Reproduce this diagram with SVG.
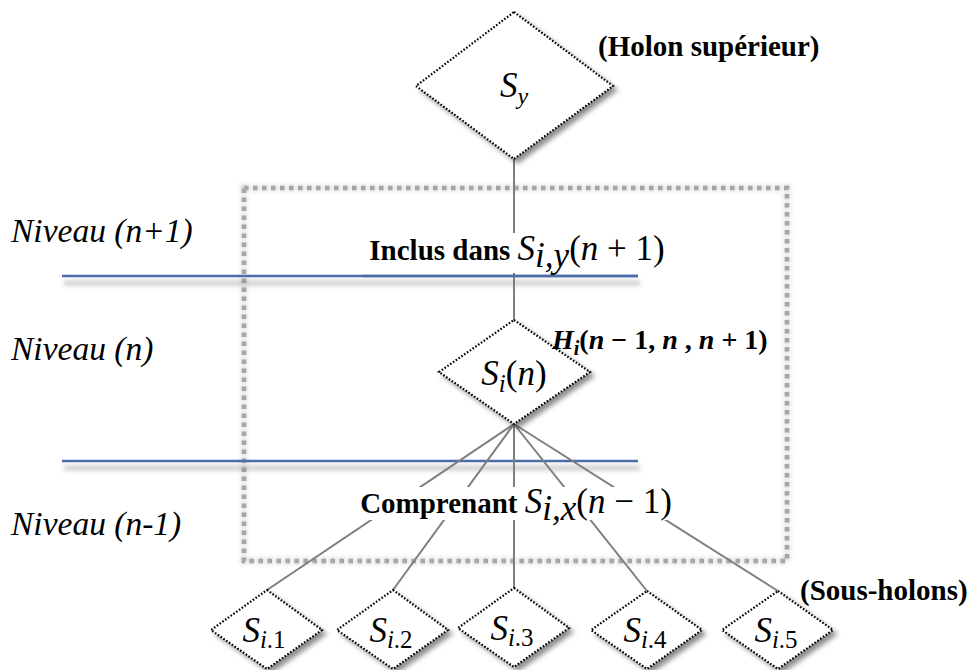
<svg xmlns="http://www.w3.org/2000/svg" width="979" height="670" viewBox="0 0 979 670">
<defs>
<filter id="dshadow" x="-20%" y="-20%" width="150%" height="150%">
<feDropShadow dx="4" dy="4" stdDeviation="2.5" flood-color="#000" flood-opacity="0.45"/>
</filter>
<filter id="lblur" filterUnits="userSpaceOnUse" x="0" y="0" width="979" height="670">
<feGaussianBlur stdDeviation="2.5"/>
</filter>
<filter id="fblur" x="-5%" y="-5%" width="110%" height="110%">
<feGaussianBlur stdDeviation="2"/>
</filter>
</defs>
<style>
.dia{fill:#fff;stroke:#000;stroke-width:2.2;stroke-dasharray:1.6 1.8;filter:url(#dshadow)}
.con{stroke:#7f7f7f;stroke-width:2;fill:none}
.lvl{font-family:"Liberation Serif",serif;font-style:italic;font-size:33.5px;fill:#000}
.bold{font-family:"Liberation Serif",serif;font-weight:bold;font-size:29px;fill:#000}
.math{font-family:"Liberation Serif",serif;font-size:35px;fill:#000}
.it{font-style:italic}
.blue{stroke:#4a6ca8;stroke-width:2.5}
.bshadow{stroke:#8c8c8c;stroke-width:4;opacity:0.55;filter:url(#lblur)}
</style>
<rect width="979" height="670" fill="#fff"/>

<g id="frame">
<rect x="244" y="188" width="543" height="373" fill="none" stroke="#999" stroke-width="6" stroke-dasharray="5 4" opacity="0.5" filter="url(#fblur)"/>
<rect x="244" y="188" width="543" height="373" fill="none" stroke="#a6a6a6" stroke-width="4.5" stroke-dasharray="4.5 4.5"/>
</g>

<g id="level-lines">
<line class="bshadow" x1="64" y1="283" x2="640" y2="283"/>
<line class="bshadow" x1="64" y1="468" x2="640" y2="468"/>
<line class="blue" x1="62" y1="276" x2="638" y2="276"/>
<line class="blue" x1="62" y1="461" x2="638" y2="461"/>
</g>

<g id="levels">
<text class="lvl" x="11" y="242">Niveau (n+1)</text>
<text class="lvl" x="11" y="360">Niveau (n)</text>
<text class="lvl" x="11" y="535">Niveau (n-1)</text>
</g>

<g id="connectors">
<line class="con" x1="514" y1="159" x2="514" y2="320"/>
<line class="con" x1="514" y1="424" x2="267" y2="590"/>
<line class="con" x1="514" y1="424" x2="393" y2="590"/>
<line class="con" x1="514" y1="424" x2="514" y2="588"/>
<line class="con" x1="514" y1="424" x2="647" y2="591"/>
<line class="con" x1="514" y1="424" x2="778" y2="591"/>
</g>

<g id="label-inclus">
<rect x="363" y="233" width="307" height="40" fill="#fff"/>
<line class="blue" x1="363" y1="276" x2="638" y2="276"/>
<text x="517" y="260" text-anchor="middle"><tspan class="bold">Inclus dans </tspan><tspan class="math it">S</tspan><tspan class="math it" font-size="23" dy="7">i,y</tspan><tspan class="math" dy="-7">(</tspan><tspan class="math it">n</tspan><tspan class="math"> + 1)</tspan></text>
</g>

<g id="label-comprenant">
<rect x="356" y="487" width="318" height="33" fill="#fff"/>
<text x="516" y="513" text-anchor="middle"><tspan class="bold">Comprenant </tspan><tspan class="math it">S</tspan><tspan class="math it" font-size="23" dy="7">i,x</tspan><tspan class="math" dy="-7">(</tspan><tspan class="math it">n</tspan><tspan class="math"> − 1)</tspan></text>
</g>

<g id="node-Sy">
<polygon class="dia" points="514,12 613,86 514,159 416,86"/>
<text class="math" x="514" y="97" text-anchor="middle"><tspan class="it">S</tspan><tspan class="it" font-size="24" dy="7">y</tspan></text>
</g>
<text class="bold" x="598" y="56" font-size="28.5">(Holon supérieur)</text>

<g id="node-Si">
<polygon class="dia" points="514,320 590,372 514,424 439,372"/>
<text class="math" x="514" y="385" font-size="38" text-anchor="middle"><tspan class="it">S</tspan><tspan class="it" font-size="25" dy="7">i</tspan><tspan dy="-7">(</tspan><tspan class="it">n</tspan>)</text>
</g>
<text x="552" y="349" font-family="Liberation Serif, serif" font-weight="bold" font-size="28"><tspan font-style="italic">H</tspan><tspan font-style="italic" font-size="20" dy="6">i</tspan><tspan dy="-6">(</tspan><tspan font-style="italic">n</tspan> − 1, <tspan font-style="italic">n</tspan> , <tspan font-style="italic">n</tspan> + 1)</text>

<g id="node-Si1">
<polygon class="dia" points="267,590 322,630 267,669 211,630"/>
<text class="math" x="264" y="642" font-size="36" text-anchor="middle"><tspan class="it">S</tspan><tspan font-size="25" dy="6"><tspan class="it">i</tspan>.1</tspan></text>
</g>
<g id="node-Si2">
<polygon class="dia" points="393,590 448,630 393,669 337,630"/>
<text class="math" x="391" y="642" font-size="36" text-anchor="middle"><tspan class="it">S</tspan><tspan font-size="25" dy="6"><tspan class="it">i</tspan>.2</tspan></text>
</g>
<g id="node-Si3">
<polygon class="dia" points="514,588 569,628 514,667 458,628"/>
<text class="math" x="512" y="640" font-size="36" text-anchor="middle"><tspan class="it">S</tspan><tspan font-size="25" dy="6"><tspan class="it">i</tspan>.3</tspan></text>
</g>
<g id="node-Si4">
<polygon class="dia" points="647,591 702,630 647,669 591,630"/>
<text class="math" x="645" y="642" font-size="36" text-anchor="middle"><tspan class="it">S</tspan><tspan font-size="25" dy="6"><tspan class="it">i</tspan>.4</tspan></text>
</g>
<g id="node-Si5">
<polygon class="dia" points="778,591 833,630 778,669 722,630"/>
<text class="math" x="776" y="642" font-size="36" text-anchor="middle"><tspan class="it">S</tspan><tspan font-size="25" dy="6"><tspan class="it">i</tspan>.5</tspan></text>
</g>
<text class="bold" x="800" y="600" font-size="31">(Sous-holons)</text>
</svg>
